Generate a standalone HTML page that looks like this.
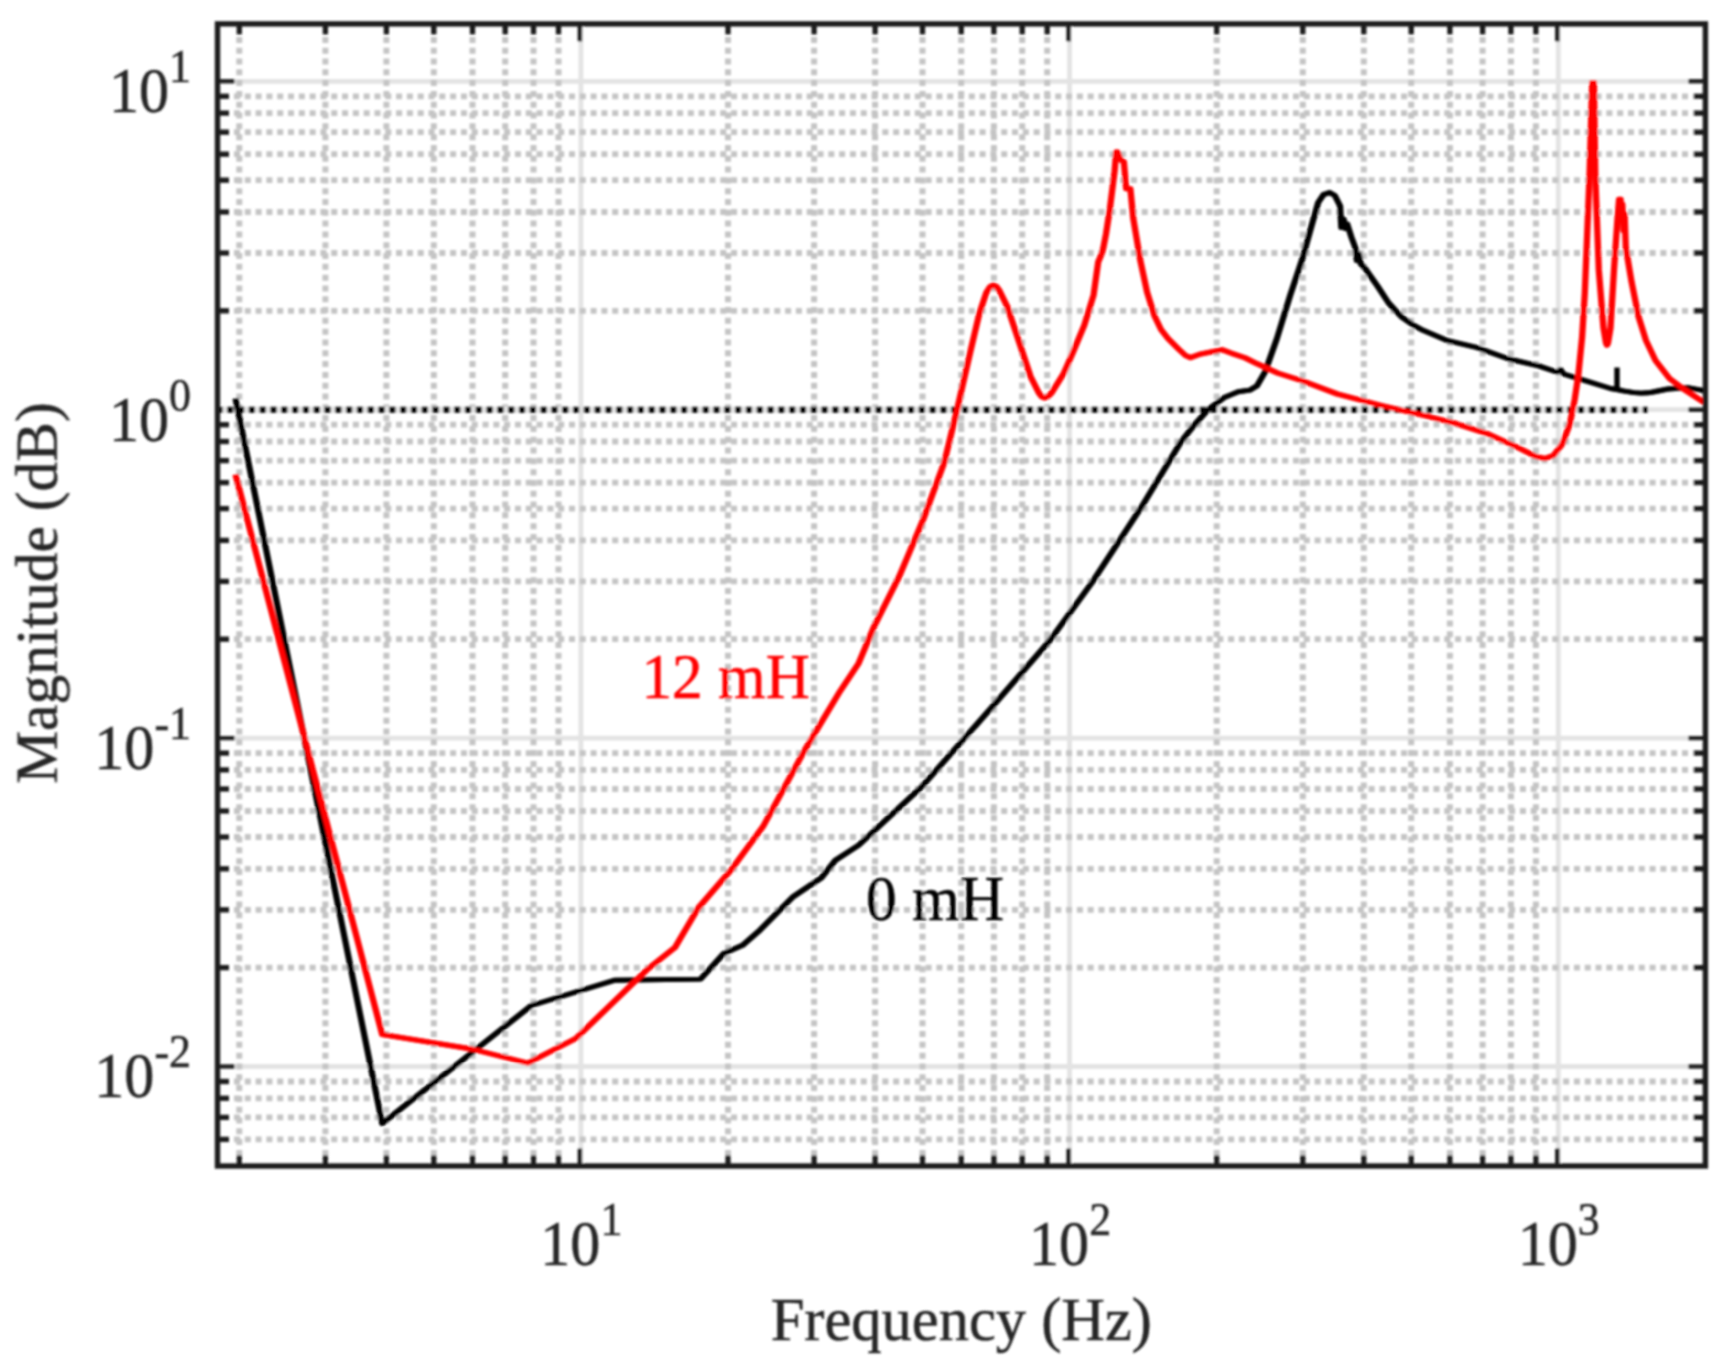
<!DOCTYPE html>
<html><head><meta charset="utf-8"><title>Magnitude vs Frequency</title>
<style>html,body{margin:0;padding:0;background:#fff}svg{display:block}text{font-family:"Liberation Serif",serif}</style></head><body>
<svg width="1730" height="1372" viewBox="0 0 1730 1372">
<defs><filter id="b" x="-2%" y="-2%" width="104%" height="104%"><feGaussianBlur stdDeviation="0.8"/></filter><clipPath id="c"><rect x="217.5" y="23.9" width="1487.9" height="1142.1"/></clipPath></defs>
<rect width="1730" height="1372" fill="#fff"/>
<g filter="url(#b)">
<g stroke="#e3e3e3" stroke-width="4.8" fill="none">
<line x1="580.9" y1="23.9" x2="580.9" y2="1166.0"/>
<line x1="1069.6" y1="23.9" x2="1069.6" y2="1166.0"/>
<line x1="1558.3" y1="23.9" x2="1558.3" y2="1166.0"/>
<line x1="217.5" y1="81.3" x2="1705.4" y2="81.3"/>
<line x1="217.5" y1="409.7" x2="1705.4" y2="409.7"/>
<line x1="217.5" y1="738.1" x2="1705.4" y2="738.1"/>
<line x1="217.5" y1="1066.5" x2="1705.4" y2="1066.5"/>
</g>
<g stroke="#c4c4c4" stroke-width="6" fill="none" stroke-dasharray="6 4.806">
<line x1="239.3" y1="36.9" x2="239.3" y2="1166.0"/>
<line x1="325.4" y1="36.9" x2="325.4" y2="1166.0"/>
<line x1="386.4" y1="36.9" x2="386.4" y2="1166.0"/>
<line x1="433.8" y1="36.9" x2="433.8" y2="1166.0"/>
<line x1="472.5" y1="36.9" x2="472.5" y2="1166.0"/>
<line x1="505.2" y1="36.9" x2="505.2" y2="1166.0"/>
<line x1="533.5" y1="36.9" x2="533.5" y2="1166.0"/>
<line x1="558.5" y1="36.9" x2="558.5" y2="1166.0"/>
<line x1="728.0" y1="36.9" x2="728.0" y2="1166.0"/>
<line x1="814.1" y1="36.9" x2="814.1" y2="1166.0"/>
<line x1="875.1" y1="36.9" x2="875.1" y2="1166.0"/>
<line x1="922.5" y1="36.9" x2="922.5" y2="1166.0"/>
<line x1="961.2" y1="36.9" x2="961.2" y2="1166.0"/>
<line x1="993.9" y1="36.9" x2="993.9" y2="1166.0"/>
<line x1="1022.2" y1="36.9" x2="1022.2" y2="1166.0"/>
<line x1="1047.2" y1="36.9" x2="1047.2" y2="1166.0"/>
<line x1="1216.7" y1="36.9" x2="1216.7" y2="1166.0"/>
<line x1="1302.8" y1="36.9" x2="1302.8" y2="1166.0"/>
<line x1="1363.8" y1="36.9" x2="1363.8" y2="1166.0"/>
<line x1="1411.2" y1="36.9" x2="1411.2" y2="1166.0"/>
<line x1="1449.9" y1="36.9" x2="1449.9" y2="1166.0"/>
<line x1="1482.6" y1="36.9" x2="1482.6" y2="1166.0"/>
<line x1="1510.9" y1="36.9" x2="1510.9" y2="1166.0"/>
<line x1="1535.9" y1="36.9" x2="1535.9" y2="1166.0"/>
</g>
<g stroke="#c4c4c4" stroke-width="5.8" fill="none" stroke-dasharray="6 4.806">
<line x1="234.0" y1="1139.4" x2="1705.4" y2="1139.4"/>
<line x1="234.0" y1="1117.4" x2="1705.4" y2="1117.4"/>
<line x1="234.0" y1="1098.3" x2="1705.4" y2="1098.3"/>
<line x1="234.0" y1="1081.5" x2="1705.4" y2="1081.5"/>
<line x1="234.0" y1="967.6" x2="1705.4" y2="967.6"/>
<line x1="234.0" y1="909.8" x2="1705.4" y2="909.8"/>
<line x1="234.0" y1="868.8" x2="1705.4" y2="868.8"/>
<line x1="234.0" y1="837.0" x2="1705.4" y2="837.0"/>
<line x1="234.0" y1="811.0" x2="1705.4" y2="811.0"/>
<line x1="234.0" y1="789.0" x2="1705.4" y2="789.0"/>
<line x1="234.0" y1="769.9" x2="1705.4" y2="769.9"/>
<line x1="234.0" y1="753.1" x2="1705.4" y2="753.1"/>
<line x1="234.0" y1="639.2" x2="1705.4" y2="639.2"/>
<line x1="234.0" y1="581.4" x2="1705.4" y2="581.4"/>
<line x1="234.0" y1="540.4" x2="1705.4" y2="540.4"/>
<line x1="234.0" y1="508.6" x2="1705.4" y2="508.6"/>
<line x1="234.0" y1="482.6" x2="1705.4" y2="482.6"/>
<line x1="234.0" y1="460.6" x2="1705.4" y2="460.6"/>
<line x1="234.0" y1="441.5" x2="1705.4" y2="441.5"/>
<line x1="234.0" y1="424.7" x2="1705.4" y2="424.7"/>
<line x1="234.0" y1="310.8" x2="1705.4" y2="310.8"/>
<line x1="234.0" y1="253.0" x2="1705.4" y2="253.0"/>
<line x1="234.0" y1="212.0" x2="1705.4" y2="212.0"/>
<line x1="234.0" y1="180.2" x2="1705.4" y2="180.2"/>
<line x1="234.0" y1="154.2" x2="1705.4" y2="154.2"/>
<line x1="234.0" y1="132.2" x2="1705.4" y2="132.2"/>
<line x1="234.0" y1="113.1" x2="1705.4" y2="113.1"/>
<line x1="234.0" y1="96.3" x2="1705.4" y2="96.3"/>
</g>
<g stroke="#1c1c1c" stroke-width="5.3" fill="none">
<line x1="239.3" y1="23.9" x2="239.3" y2="34.4"/>
<line x1="239.3" y1="1166.0" x2="239.3" y2="1155.5"/>
<line x1="325.4" y1="23.9" x2="325.4" y2="34.4"/>
<line x1="325.4" y1="1166.0" x2="325.4" y2="1155.5"/>
<line x1="386.4" y1="23.9" x2="386.4" y2="34.4"/>
<line x1="386.4" y1="1166.0" x2="386.4" y2="1155.5"/>
<line x1="433.8" y1="23.9" x2="433.8" y2="34.4"/>
<line x1="433.8" y1="1166.0" x2="433.8" y2="1155.5"/>
<line x1="472.5" y1="23.9" x2="472.5" y2="34.4"/>
<line x1="472.5" y1="1166.0" x2="472.5" y2="1155.5"/>
<line x1="505.2" y1="23.9" x2="505.2" y2="34.4"/>
<line x1="505.2" y1="1166.0" x2="505.2" y2="1155.5"/>
<line x1="533.5" y1="23.9" x2="533.5" y2="34.4"/>
<line x1="533.5" y1="1166.0" x2="533.5" y2="1155.5"/>
<line x1="558.5" y1="23.9" x2="558.5" y2="34.4"/>
<line x1="558.5" y1="1166.0" x2="558.5" y2="1155.5"/>
<line x1="728.0" y1="23.9" x2="728.0" y2="34.4"/>
<line x1="728.0" y1="1166.0" x2="728.0" y2="1155.5"/>
<line x1="814.1" y1="23.9" x2="814.1" y2="34.4"/>
<line x1="814.1" y1="1166.0" x2="814.1" y2="1155.5"/>
<line x1="875.1" y1="23.9" x2="875.1" y2="34.4"/>
<line x1="875.1" y1="1166.0" x2="875.1" y2="1155.5"/>
<line x1="922.5" y1="23.9" x2="922.5" y2="34.4"/>
<line x1="922.5" y1="1166.0" x2="922.5" y2="1155.5"/>
<line x1="961.2" y1="23.9" x2="961.2" y2="34.4"/>
<line x1="961.2" y1="1166.0" x2="961.2" y2="1155.5"/>
<line x1="993.9" y1="23.9" x2="993.9" y2="34.4"/>
<line x1="993.9" y1="1166.0" x2="993.9" y2="1155.5"/>
<line x1="1022.2" y1="23.9" x2="1022.2" y2="34.4"/>
<line x1="1022.2" y1="1166.0" x2="1022.2" y2="1155.5"/>
<line x1="1047.2" y1="23.9" x2="1047.2" y2="34.4"/>
<line x1="1047.2" y1="1166.0" x2="1047.2" y2="1155.5"/>
<line x1="1216.7" y1="23.9" x2="1216.7" y2="34.4"/>
<line x1="1216.7" y1="1166.0" x2="1216.7" y2="1155.5"/>
<line x1="1302.8" y1="23.9" x2="1302.8" y2="34.4"/>
<line x1="1302.8" y1="1166.0" x2="1302.8" y2="1155.5"/>
<line x1="1363.8" y1="23.9" x2="1363.8" y2="34.4"/>
<line x1="1363.8" y1="1166.0" x2="1363.8" y2="1155.5"/>
<line x1="1411.2" y1="23.9" x2="1411.2" y2="34.4"/>
<line x1="1411.2" y1="1166.0" x2="1411.2" y2="1155.5"/>
<line x1="1449.9" y1="23.9" x2="1449.9" y2="34.4"/>
<line x1="1449.9" y1="1166.0" x2="1449.9" y2="1155.5"/>
<line x1="1482.6" y1="23.9" x2="1482.6" y2="34.4"/>
<line x1="1482.6" y1="1166.0" x2="1482.6" y2="1155.5"/>
<line x1="1510.9" y1="23.9" x2="1510.9" y2="34.4"/>
<line x1="1510.9" y1="1166.0" x2="1510.9" y2="1155.5"/>
<line x1="1535.9" y1="23.9" x2="1535.9" y2="34.4"/>
<line x1="1535.9" y1="1166.0" x2="1535.9" y2="1155.5"/>
<line x1="217.5" y1="1139.4" x2="229.0" y2="1139.4"/>
<line x1="1705.4" y1="1139.4" x2="1693.9" y2="1139.4"/>
<line x1="217.5" y1="1117.4" x2="229.0" y2="1117.4"/>
<line x1="1705.4" y1="1117.4" x2="1693.9" y2="1117.4"/>
<line x1="217.5" y1="1098.3" x2="229.0" y2="1098.3"/>
<line x1="1705.4" y1="1098.3" x2="1693.9" y2="1098.3"/>
<line x1="217.5" y1="1081.5" x2="229.0" y2="1081.5"/>
<line x1="1705.4" y1="1081.5" x2="1693.9" y2="1081.5"/>
<line x1="217.5" y1="967.6" x2="229.0" y2="967.6"/>
<line x1="1705.4" y1="967.6" x2="1693.9" y2="967.6"/>
<line x1="217.5" y1="909.8" x2="229.0" y2="909.8"/>
<line x1="1705.4" y1="909.8" x2="1693.9" y2="909.8"/>
<line x1="217.5" y1="868.8" x2="229.0" y2="868.8"/>
<line x1="1705.4" y1="868.8" x2="1693.9" y2="868.8"/>
<line x1="217.5" y1="837.0" x2="229.0" y2="837.0"/>
<line x1="1705.4" y1="837.0" x2="1693.9" y2="837.0"/>
<line x1="217.5" y1="811.0" x2="229.0" y2="811.0"/>
<line x1="1705.4" y1="811.0" x2="1693.9" y2="811.0"/>
<line x1="217.5" y1="789.0" x2="229.0" y2="789.0"/>
<line x1="1705.4" y1="789.0" x2="1693.9" y2="789.0"/>
<line x1="217.5" y1="769.9" x2="229.0" y2="769.9"/>
<line x1="1705.4" y1="769.9" x2="1693.9" y2="769.9"/>
<line x1="217.5" y1="753.1" x2="229.0" y2="753.1"/>
<line x1="1705.4" y1="753.1" x2="1693.9" y2="753.1"/>
<line x1="217.5" y1="639.2" x2="229.0" y2="639.2"/>
<line x1="1705.4" y1="639.2" x2="1693.9" y2="639.2"/>
<line x1="217.5" y1="581.4" x2="229.0" y2="581.4"/>
<line x1="1705.4" y1="581.4" x2="1693.9" y2="581.4"/>
<line x1="217.5" y1="540.4" x2="229.0" y2="540.4"/>
<line x1="1705.4" y1="540.4" x2="1693.9" y2="540.4"/>
<line x1="217.5" y1="508.6" x2="229.0" y2="508.6"/>
<line x1="1705.4" y1="508.6" x2="1693.9" y2="508.6"/>
<line x1="217.5" y1="482.6" x2="229.0" y2="482.6"/>
<line x1="1705.4" y1="482.6" x2="1693.9" y2="482.6"/>
<line x1="217.5" y1="460.6" x2="229.0" y2="460.6"/>
<line x1="1705.4" y1="460.6" x2="1693.9" y2="460.6"/>
<line x1="217.5" y1="441.5" x2="229.0" y2="441.5"/>
<line x1="1705.4" y1="441.5" x2="1693.9" y2="441.5"/>
<line x1="217.5" y1="424.7" x2="229.0" y2="424.7"/>
<line x1="1705.4" y1="424.7" x2="1693.9" y2="424.7"/>
<line x1="217.5" y1="310.8" x2="229.0" y2="310.8"/>
<line x1="1705.4" y1="310.8" x2="1693.9" y2="310.8"/>
<line x1="217.5" y1="253.0" x2="229.0" y2="253.0"/>
<line x1="1705.4" y1="253.0" x2="1693.9" y2="253.0"/>
<line x1="217.5" y1="212.0" x2="229.0" y2="212.0"/>
<line x1="1705.4" y1="212.0" x2="1693.9" y2="212.0"/>
<line x1="217.5" y1="180.2" x2="229.0" y2="180.2"/>
<line x1="1705.4" y1="180.2" x2="1693.9" y2="180.2"/>
<line x1="217.5" y1="154.2" x2="229.0" y2="154.2"/>
<line x1="1705.4" y1="154.2" x2="1693.9" y2="154.2"/>
<line x1="217.5" y1="132.2" x2="229.0" y2="132.2"/>
<line x1="1705.4" y1="132.2" x2="1693.9" y2="132.2"/>
<line x1="217.5" y1="113.1" x2="229.0" y2="113.1"/>
<line x1="1705.4" y1="113.1" x2="1693.9" y2="113.1"/>
<line x1="217.5" y1="96.3" x2="229.0" y2="96.3"/>
<line x1="1705.4" y1="96.3" x2="1693.9" y2="96.3"/>
</g>
<g stroke="#1c1c1c" stroke-width="4.4" fill="none">
<line x1="579.9" y1="23.9" x2="579.9" y2="41.4"/>
<line x1="579.9" y1="1166.0" x2="579.9" y2="1148.5"/>
<line x1="1068.6" y1="23.9" x2="1068.6" y2="41.4"/>
<line x1="1068.6" y1="1166.0" x2="1068.6" y2="1148.5"/>
<line x1="1557.3" y1="23.9" x2="1557.3" y2="41.4"/>
<line x1="1557.3" y1="1166.0" x2="1557.3" y2="1148.5"/>
<line x1="217.5" y1="81.3" x2="234.5" y2="81.3"/>
<line x1="1705.4" y1="81.3" x2="1688.4" y2="81.3"/>
<line x1="217.5" y1="409.7" x2="234.5" y2="409.7"/>
<line x1="1705.4" y1="409.7" x2="1688.4" y2="409.7"/>
<line x1="217.5" y1="738.1" x2="234.5" y2="738.1"/>
<line x1="1705.4" y1="738.1" x2="1688.4" y2="738.1"/>
<line x1="217.5" y1="1066.5" x2="234.5" y2="1066.5"/>
<line x1="1705.4" y1="1066.5" x2="1688.4" y2="1066.5"/>
</g>
<line x1="217.5" y1="409.7" x2="1648" y2="409.7" stroke="#e3e3e3" stroke-width="6.4"/>
<line x1="217.5" y1="409.7" x2="1648" y2="409.7" stroke="#000" stroke-width="6" stroke-dasharray="6.2 4.606" stroke-dashoffset="1.14"/>
<g clip-path="url(#c)" fill="none" stroke="#000" stroke-width="4.9" stroke-linejoin="round" stroke-linecap="butt"><polyline transform="translate(-0.65,0)" points="235.5,398.4 382.2,1123.5 531.4,1005.5 614.2,980.3 700.5,979.1 723.8,953.5 742.5,945.3 760.0,930.1 793.3,896.6 821.3,877.9 835.3,860.4 858.6,845.2 921.6,786.9 991.5,707.6 1050.3,639.9 1092.6,581.6 1141.5,506.9 1181.2,441.6 1193.9,425.5 1208.5,409.2 1224.2,397.6 1238.2,391.7 1249.9,390.1 1256.9,385.9 1265.0,372.1 1276.8,338.9 1290.2,295.2 1302.5,258.4 1311.2,227.0 1318.2,202.5 1323.5,194.6 1329.6,192.5 1334.8,195.5 1340.1,206.0 1341.3,227.5 1343.6,219.0 1345.4,228.5 1347.2,224.0 1351.5,237.5 1355.8,249.0 1356.8,260.5 1358.8,254.0 1360.6,263.5 1365.4,268.9 1377.7,286.4 1388.6,303.0 1395.0,310.0 1402.0,317.3 1412.0,324.3 1423.0,330.3 1447.7,340.7 1477.4,347.7 1508.9,359.0 1538.6,365.9 1557.5,372.3 1560.5,369.6 1563.5,374.0 1585.9,380.8 1610.7,388.5 1617.0,389.5 1623.1,390.8 1634.0,392.6 1641.0,393.1 1648.0,392.8 1653.0,392.0 1667.9,389.0 1687.8,387.7 1703.9,390.7"/><polyline transform="translate(0.65,0)" points="235.5,398.4 382.2,1123.5 531.4,1005.5 614.2,980.3 700.5,979.1 723.8,953.5 742.5,945.3 760.0,930.1 793.3,896.6 821.3,877.9 835.3,860.4 858.6,845.2 921.6,786.9 991.5,707.6 1050.3,639.9 1092.6,581.6 1141.5,506.9 1181.2,441.6 1193.9,425.5 1208.5,409.2 1224.2,397.6 1238.2,391.7 1249.9,390.1 1256.9,385.9 1265.0,372.1 1276.8,338.9 1290.2,295.2 1302.5,258.4 1311.2,227.0 1318.2,202.5 1323.5,194.6 1329.6,192.5 1334.8,195.5 1340.1,206.0 1341.3,227.5 1343.6,219.0 1345.4,228.5 1347.2,224.0 1351.5,237.5 1355.8,249.0 1356.8,260.5 1358.8,254.0 1360.6,263.5 1365.4,268.9 1377.7,286.4 1388.6,303.0 1395.0,310.0 1402.0,317.3 1412.0,324.3 1423.0,330.3 1447.7,340.7 1477.4,347.7 1508.9,359.0 1538.6,365.9 1557.5,372.3 1560.5,369.6 1563.5,374.0 1585.9,380.8 1610.7,388.5 1617.0,389.5 1623.1,390.8 1634.0,392.6 1641.0,393.1 1648.0,392.8 1653.0,392.0 1667.9,389.0 1687.8,387.7 1703.9,390.7"/></g>
<line x1="1617" y1="367.5" x2="1617" y2="389" stroke="#000" stroke-width="5.4"/>
<g clip-path="url(#c)" fill="none" stroke="#f00" stroke-width="5.1" stroke-linejoin="round" stroke-linecap="butt"><polyline transform="translate(-0.6,0)" points="235.5,474.5 382.2,1034.5 472.0,1049.1 527.9,1063.1 575.7,1038.6 646.9,969.8 674.9,947.6 698.2,908.0 730.3,870.9 763.0,826.6 805.0,749.6 840.0,691.3 858.6,663.3 873.3,628.2 899.0,576.9 923.6,518.6 944.2,462.6 957.2,409.2 970.0,353.2 979.3,313.6 986.3,292.6 989.8,287.0 993.3,285.1 996.4,286.6 999.4,290.6 1007.3,306.6 1019.0,341.6 1030.6,376.6 1038.8,392.9 1041.7,396.6 1044.6,398.0 1047.8,396.7 1051.6,392.9 1063.3,374.2 1072.6,353.2 1084.3,325.3 1093.6,294.9 1098.2,262.0 1101.8,253.5 1103.2,248.5 1106.0,234.0 1109.9,208.6 1114.6,171.3 1116.2,152.0 1117.6,152.0 1120.4,159.7 1123.9,162.0 1126.2,188.8 1130.4,188.8 1133.2,218.0 1140.2,259.9 1147.2,292.6 1154.5,316.0 1161.0,329.5 1168.0,338.5 1179.0,349.5 1185.5,355.5 1190.5,357.7 1196.0,355.6 1200.9,353.9 1221.9,349.7 1231.2,353.2 1245.2,357.9 1256.9,363.7 1277.8,373.1 1302.5,380.9 1337.3,394.0 1382.0,405.6 1424.3,415.6 1454.1,423.0 1488.9,434.2 1516.3,446.7 1536.1,456.6 1544.8,458.6 1553.5,455.4 1562.2,444.2 1569.7,424.3 1574.7,399.4 1578.4,374.6 1582.1,337.3 1584.8,293.2 1589.5,176.6 1592.2,82.6 1593.9,82.6 1595.3,176.6 1598.8,269.9 1603.5,328.2 1606.0,343.0 1607.0,345.0 1608.0,343.0 1610.5,328.2 1614.0,269.9 1617.5,218.6 1619.1,199.2 1620.6,199.2 1621.3,221.0 1622.3,204.0 1623.6,231.0 1624.6,214.0 1625.8,247.5 1631.5,281.6 1638.5,316.6 1646.0,340.5 1655.5,360.5 1669.5,378.5 1682.8,388.5 1703.9,402.4"/><polyline transform="translate(0.6,0)" points="235.5,474.5 382.2,1034.5 472.0,1049.1 527.9,1063.1 575.7,1038.6 646.9,969.8 674.9,947.6 698.2,908.0 730.3,870.9 763.0,826.6 805.0,749.6 840.0,691.3 858.6,663.3 873.3,628.2 899.0,576.9 923.6,518.6 944.2,462.6 957.2,409.2 970.0,353.2 979.3,313.6 986.3,292.6 989.8,287.0 993.3,285.1 996.4,286.6 999.4,290.6 1007.3,306.6 1019.0,341.6 1030.6,376.6 1038.8,392.9 1041.7,396.6 1044.6,398.0 1047.8,396.7 1051.6,392.9 1063.3,374.2 1072.6,353.2 1084.3,325.3 1093.6,294.9 1098.2,262.0 1101.8,253.5 1103.2,248.5 1106.0,234.0 1109.9,208.6 1114.6,171.3 1116.2,152.0 1117.6,152.0 1120.4,159.7 1123.9,162.0 1126.2,188.8 1130.4,188.8 1133.2,218.0 1140.2,259.9 1147.2,292.6 1154.5,316.0 1161.0,329.5 1168.0,338.5 1179.0,349.5 1185.5,355.5 1190.5,357.7 1196.0,355.6 1200.9,353.9 1221.9,349.7 1231.2,353.2 1245.2,357.9 1256.9,363.7 1277.8,373.1 1302.5,380.9 1337.3,394.0 1382.0,405.6 1424.3,415.6 1454.1,423.0 1488.9,434.2 1516.3,446.7 1536.1,456.6 1544.8,458.6 1553.5,455.4 1562.2,444.2 1569.7,424.3 1574.7,399.4 1578.4,374.6 1582.1,337.3 1584.8,293.2 1589.5,176.6 1592.2,82.6 1593.9,82.6 1595.3,176.6 1598.8,269.9 1603.5,328.2 1606.0,343.0 1607.0,345.0 1608.0,343.0 1610.5,328.2 1614.0,269.9 1617.5,218.6 1619.1,199.2 1620.6,199.2 1621.3,221.0 1622.3,204.0 1623.6,231.0 1624.6,214.0 1625.8,247.5 1631.5,281.6 1638.5,316.6 1646.0,340.5 1655.5,360.5 1669.5,378.5 1682.8,388.5 1703.9,402.4"/></g>
<rect x="217.5" y="23.9" width="1487.9" height="1142.1" fill="none" stroke="#1c1c1c" stroke-width="5.4"/>
<text transform="translate(191.0,112.2) scale(0.955,1)" text-anchor="end" font-size="63" fill="#262626" stroke="#262626" stroke-width="0.5">10<tspan font-size="46" dy="-30">1</tspan></text>
<text transform="translate(191.0,440.6) scale(0.955,1)" text-anchor="end" font-size="63" fill="#262626" stroke="#262626" stroke-width="0.5">10<tspan font-size="46" dy="-30">0</tspan></text>
<text transform="translate(191.0,769.0) scale(0.955,1)" text-anchor="end" font-size="63" fill="#262626" stroke="#262626" stroke-width="0.5">10<tspan font-size="46" dy="-30">-1</tspan></text>
<text transform="translate(191.0,1097.4) scale(0.955,1)" text-anchor="end" font-size="63" fill="#262626" stroke="#262626" stroke-width="0.5">10<tspan font-size="46" dy="-30">-2</tspan></text>
<text transform="translate(540.3,1264.7) scale(0.955,1)" text-anchor="start" font-size="63" fill="#262626" stroke="#262626" stroke-width="0.5">10<tspan font-size="46" dy="-30">1</tspan></text>
<text transform="translate(1029.0,1264.7) scale(0.955,1)" text-anchor="start" font-size="63" fill="#262626" stroke="#262626" stroke-width="0.5">10<tspan font-size="46" dy="-30">2</tspan></text>
<text transform="translate(1517.7,1264.7) scale(0.955,1)" text-anchor="start" font-size="63" fill="#262626" stroke="#262626" stroke-width="0.5">10<tspan font-size="46" dy="-30">3</tspan></text>
<text transform="translate(961.3,1339.7) scale(0.976,1)" text-anchor="middle" font-size="62" fill="#262626" stroke="#262626" stroke-width="0.5">Frequency (Hz)</text>
<text transform="translate(56.7,593.0) rotate(-90) scale(1.0,1)" text-anchor="middle" font-size="59.5" fill="#262626" stroke="#262626" stroke-width="0.5">Magnitude (dB)</text>
<text transform="translate(641.5,697.7) scale(0.972,1)" text-anchor="start" font-size="63" fill="#f00" stroke="#f00" stroke-width="0.5">12 mH</text>
<text transform="translate(866.0,920.0) scale(0.975,1)" text-anchor="start" font-size="63" fill="#000" stroke="#000" stroke-width="0.5">0 mH</text>
</g></svg></body></html>
